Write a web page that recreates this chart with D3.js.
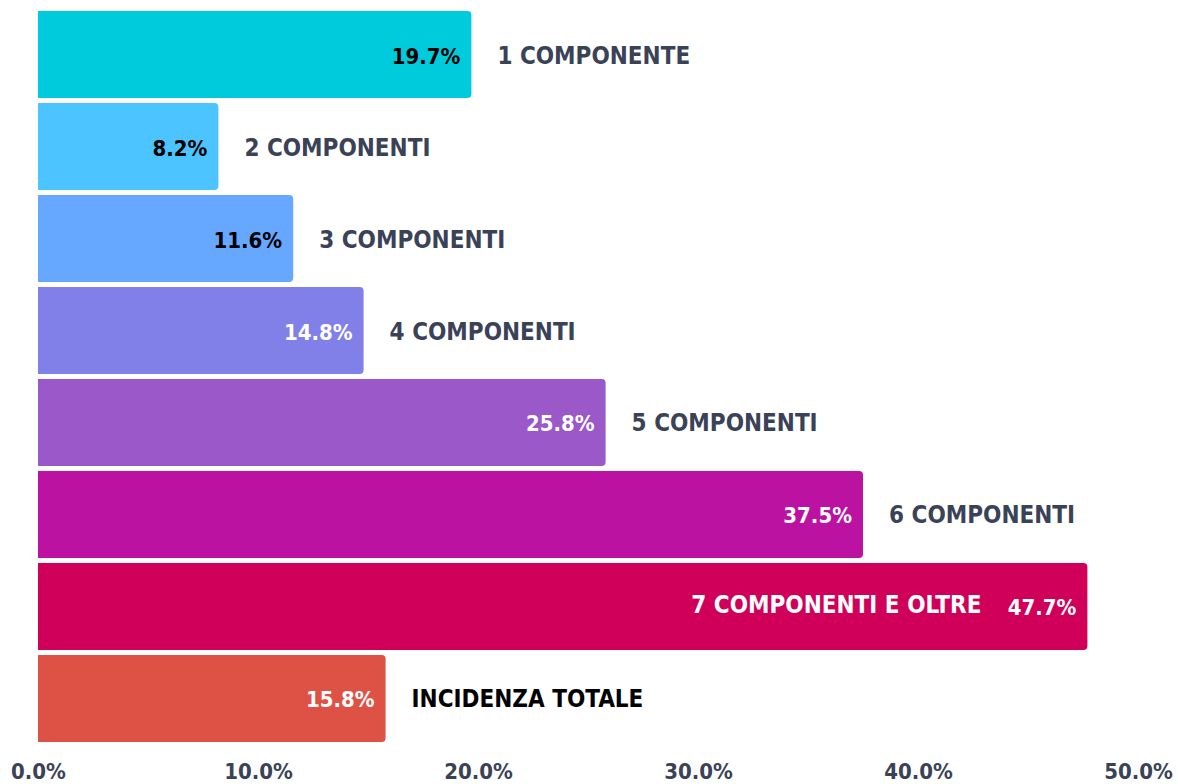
<!DOCTYPE html>
<html>
<head>
<meta charset="utf-8">
<script src="https://cdn.jsdelivr.net/npm/d3@7"></script>
<style>
  body { margin: 0; background: #fff; }
  text { font-family: "Liberation Sans Narrow", "DejaVu Sans Condensed", sans-serif; font-weight: bold; }
</style>
</head>
<body>
<div id="chart"></div>
<script>
// values
const categories = ["1 COMPONENTE", "2 COMPONENTI", "3 COMPONENTI", "4 COMPONENTI",
    "5 COMPONENTI", "6 COMPONENTI", "7 COMPONENTI E OLTRE", "INCIDENZA TOTALE"];
const values = [19.7, 8.2, 11.6, 14.8, 25.8, 37.5, 47.7, 15.8];
const colors = ["#00cbdc", "#4bc4ff", "#66a7ff", "#8080e8", "#9a58c8", "#bb12a1", "#d0005a", "#de5246"];
const xTicks = [0, 10, 20, 30, 40, 50];

const width = 1178, height = 784;
const data = categories.map((c, i) => ({ cat: c, value: values[i], color: colors[i], i: i }));

const svg = d3.select("#chart").append("svg")
    .attr("width", width)
    .attr("height", height);

const x = d3.scaleLinear().domain([0, 50]).range([38, 1138]);
const y = d3.scaleBand().domain(categories).range([11, 742]).paddingInner(0.054).paddingOuter(0);

// bar with rounded right corners only
function barPath(d) {
    const x0 = x(0), x1 = x(d.value), y0 = y(d.cat), h = y.bandwidth(), r = 4;
    return "M" + x0 + "," + y0 +
        "H" + (x1 - r) + "Q" + x1 + "," + y0 + " " + x1 + "," + (y0 + r) +
        "V" + (y0 + h - r) + "Q" + x1 + "," + (y0 + h) + " " + (x1 - r) + "," + (y0 + h) +
        "H" + x0 + "Z";
}

svg.selectAll(".bar")
    .data(data).enter()
    .append("path")
    .attr("class", "bar")
    .attr("d", barPath)
    .attr("fill", d => d.color);

// value labels inside the bars
svg.selectAll(".val")
    .data(data).enter()
    .append("text")
    .attr("class", "val")
    .attr("x", d => x(d.value) - 11)
    .attr("y", d => y(d.cat) + y.bandwidth() / 2 + 9)
    .attr("text-anchor", "end")
    .style("font-size", "22px")
    .attr("fill", d => d.i < 3 ? "#000" : "#fff")
    .text(d => d.value.toFixed(1) + "%");

// category labels, inside the bar only for the longest one
const inside = d => d.i === 6;
svg.selectAll(".cat")
    .data(data).enter()
    .append("text")
    .attr("class", "cat")
    .attr("x", d => inside(d) ? x(d.value) - 106 : x(d.value) + 26)
    .attr("y", d => y(d.cat) + y.bandwidth() / 2 + (inside(d) ? 7 : 9))
    .attr("text-anchor", d => inside(d) ? "end" : "start")
    .style("font-size", "24px")
    .attr("fill", d => inside(d) ? "#fff" : (d.i === 7 ? "#000" : "#3a4257"))
    .text(d => d.cat);

const axis = svg.append("g")
    .attr("transform", "translate(0,760)")
    .call(d3.axisBottom(x).tickValues(xTicks).tickSize(0).tickFormat(d => d.toFixed(1) + "%"));
axis.select(".domain").remove();
axis.selectAll("text")
    .attr("dy", "0.71em")
    .style("font-size", "22px")
    .style("font-family", "'Liberation Sans Narrow', 'DejaVu Sans Condensed', sans-serif")
    .style("font-weight", "bold")
    .attr("fill", "#3a4257");
</script>
</body>
</html>
